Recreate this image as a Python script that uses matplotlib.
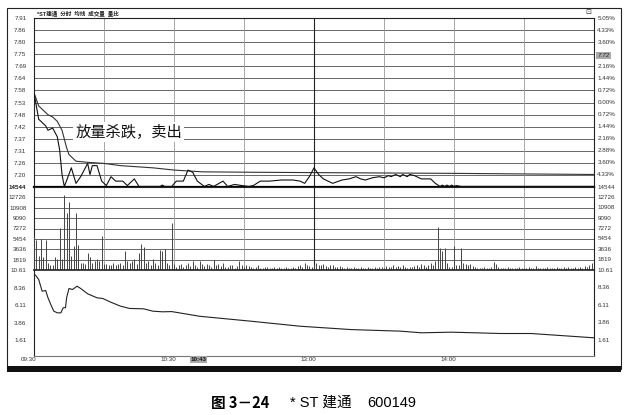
import matplotlib
matplotlib.use("Agg")
import matplotlib.pyplot as plt
from matplotlib.patches import Rectangle

plt.rcParams['font.family'] = ['Liberation Sans', 'Noto Sans CJK SC', 'DejaVu Sans']

W, H = 626, 415


def fx(px):
    return px / W


def fy(py):
    return 1 - py / H


# ---- data (minutes from 09:30, 0..240) ----
price_t = [0, 2, 5, 6, 8, 10, 11, 12, 13, 16, 18, 20, 23, 24, 25, 27, 29, 31, 33, 35,
           38, 40, 43, 45, 54, 55, 56, 59, 61, 64, 66, 68, 70, 73, 75, 77, 81, 83, 86, 89,
           92, 94, 97, 101, 106, 111, 114, 116, 118, 120, 122, 124, 126, 128, 132, 135, 138,
           140, 142, 145, 148, 150, 152, 153, 155, 157, 158, 160, 161, 163, 165, 166, 170,
           172, 174, 175, 176, 177, 178, 179, 180, 181, 183, 240]
price_v = [7.57, 7.45, 7.42, 7.40, 7.41, 7.37, 7.31, 7.20, 7.145, 7.23, 7.16, 7.19, 7.25,
           7.20, 7.24, 7.24, 7.17, 7.15, 7.19, 7.17, 7.17, 7.15, 7.18, 7.146, 7.146, 7.152,
           7.146, 7.146, 7.17, 7.17, 7.22, 7.21, 7.17, 7.146, 7.155, 7.146, 7.17, 7.146,
           7.155, 7.15, 7.146, 7.15, 7.17, 7.17, 7.175, 7.175, 7.17, 7.16, 7.19, 7.23, 7.20,
           7.18, 7.17, 7.16, 7.175, 7.18, 7.19, 7.18, 7.175, 7.185, 7.19, 7.185, 7.195,
           7.19, 7.20, 7.19, 7.20, 7.19, 7.20, 7.195, 7.185, 7.18, 7.18, 7.16, 7.146, 7.152,
           7.146, 7.152, 7.146, 7.152, 7.146, 7.15, 7.146, 7.146]

avg_t = [0, 2, 6, 8, 10, 12, 14, 15, 18, 23, 30, 37, 51, 60, 72, 94, 180, 240]
avg_v = [7.57, 7.51, 7.47, 7.46, 7.44, 7.40, 7.32, 7.29, 7.26, 7.255, 7.25, 7.24, 7.23,
         7.22, 7.212, 7.21, 7.205, 7.20]

volume = [6000, 5300, 2500, 5400, 2300, 5200, 1300, 900, 800, 2200,
          2000, 7300, 2000, 13200, 10000, 12000, 2500, 4200, 10000, 4300,
          1300, 1200, 1100, 3000, 2300, 1300, 1600, 2000, 1600, 5900,
          1100, 1000, 800, 900, 1200, 800, 1000, 1300, 900, 3400,
          1500, 1200, 1600, 2000, 1000, 3000, 4500, 4000, 1200, 1500,
          900, 1900, 1200, 800, 3500, 3400, 3600, 1200, 900, 8200,
          1100,
          600, 900, 1100, 500, 800, 1200, 700, 1500, 900, 600,
          1600, 1000, 700, 1100, 800, 500, 1750, 900, 1000, 700,
          1200, 600, 500, 800, 900, 400, 700, 1600, 800, 600,
          900, 700, 500, 400, 600, 800, 400, 300, 500, 600,
          400, 300, 500, 400, 600, 300, 400, 500, 300, 400,
          600, 400, 700, 800, 600, 1200, 900, 700, 500, 1100,
          1200, 800, 900, 1000, 700, 600, 800, 900, 500, 600,
          700, 500, 400, 600, 300, 400, 500, 300, 400, 500,
          300, 400, 600, 400, 300, 500, 400, 600, 500, 400,
          700, 500, 600, 800, 500, 700, 600, 900, 500, 400,
          600, 500, 700, 900, 600, 1000, 800, 600, 900, 1200,
          800, 1600, 7500, 3900, 3300, 3900, 1200, 600, 500, 4200,
          800, 900, 3900, 1200, 1000, 900, 1100, 700, 500, 400,
          300, 400, 500, 300, 400, 600, 1400, 1000, 500, 300,
          400, 300, 500, 400, 300, 400, 300, 500, 400, 300,
          400, 500, 300, 400, 700, 300, 400, 300, 400, 500,
          300, 400, 300, 500, 400, 300, 600, 400, 500, 300,
          400, 500, 300, 600, 400, 700, 500, 900, 1200, 2000]

ratio_t = [0, 1, 2, 3.5, 5, 6, 7.5, 8.5, 10, 11.5, 12.5, 13.5, 14, 15, 16.5, 18.5, 20, 23,
           27, 29.5, 32.5, 37, 41, 47, 51, 55, 59, 61, 65, 71, 93, 114, 136, 157, 166, 179,
           200, 213, 240]
ratio_v = [10.1, 9.82, 9.40, 7.90, 7.99, 7.06, 5.99, 5.35, 5.14, 5.14, 5.78, 5.8, 7.1, 8.25,
           8.12, 8.54, 8.25, 7.57, 7.06, 6.97, 6.55, 6.0, 5.7, 5.65, 5.35, 5.27, 5.3, 5.2,
           5.0, 4.7, 4.07, 3.43, 3.0, 2.8, 2.59, 2.67, 2.5, 2.5, 1.95]

price_labels = ["7.91", "7.86", "7.80", "7.75", "7.69", "7.64", "7.58", "7.53", "7.48",
                "7.42", "7.37", "7.31", "7.26", "7.20", "14544"]
pct_labels = ["5.05%", "4.33%", "3.60%", "", "2.16%", "1.44%", "0.72%", "0.00%", "0.72%",
              "1.44%", "2.16%", "2.88%", "3.60%", "4.33%", "14544"]
vol_ticks = [14544, 12726, 10908, 9090, 7272, 5454, 3636, 1819]
ratio_ticks = [10.61, 8.36, 6.11, 3.86, 1.61]
time_ticks = [0, 60, 120, 180]
time_labels = ["09:30", "10:30", "13:00", "14:00"]

prev_close = 7.58
step = prev_close * 0.0072
levels = [prev_close + step * k for k in range(6, -9, -1)]

# ---- figure ----
fig = plt.figure(figsize=(6.26, 4.15), dpi=100)
left, right = 34, 594
aw = fx(right) - fx(left)
ax1 = fig.add_axes([fx(left), fy(187), aw, fy(18) - fy(187)])
ax2 = fig.add_axes([fx(left), fy(270), aw, fy(187) - fy(270)], sharex=ax1)
ax3 = fig.add_axes([fx(left), fy(356), aw, fy(270) - fy(356)], sharex=ax1)

lab_kw = dict(fontsize=4.5, color='#333333')
grid_c = '#666666'

for ax in (ax1, ax2, ax3):
    ax.set_xlim(0, 240)
    for s in ax.spines.values():
        s.set_color('#222222')
        s.set_linewidth(0.8)
    ax.tick_params(axis='y', left=False, right=False, pad=2)
    ax.tick_params(axis='x', bottom=False, labelbottom=False)

# price panel
ax1.set_ylim(levels[-1], levels[0])
for lv in levels[1:-1]:
    ax1.axhline(lv, color=grid_c, lw=0.7, zorder=1)
ax1.set_yticks(levels)
ax1.set_yticklabels(price_labels, **lab_kw)
for lv, lab in zip(levels, pct_labels):
    if lab:
        ax1.text(1.006, lv, lab, transform=ax1.get_yaxis_transform(), ha='left', va='center', **lab_kw)
ax1.spines['bottom'].set_linewidth(1.6)
ax1.spines['bottom'].set_color('black')
ax1.plot(avg_t, avg_v, color='#333333', lw=0.8, zorder=3)
ax1.plot(price_t, price_v, color='#111111', lw=0.8, zorder=4)
ax1.text(40.5, 7.392, '放量杀跌，卖出', fontsize=11, color='#111111', ha='center', va='center',
         zorder=2, bbox=dict(fc='white', ec='none', pad=1.5))
ax1.text(1.006, levels[3] - 0.006, '7.72', transform=ax1.get_yaxis_transform(), ha='left',
         va='center', fontsize=4.5, color='#222222', style='italic',
         bbox=dict(fc='#aaaaaa', ec='none', pad=0.8))

# volume panel
ax2.set_ylim(0, 14544)
for v in vol_ticks[1:]:
    ax2.axhline(v, color=grid_c, lw=0.7, zorder=1)
ax2.set_yticks(vol_ticks)
ax2.set_yticklabels([str(v) for v in vol_ticks], **lab_kw)
for v in vol_ticks[1:]:
    ax2.text(1.006, v, str(v), transform=ax2.get_yaxis_transform(), ha='left', va='center', **lab_kw)
ax2.vlines(range(len(volume)), 0, volume, lw=0.7, color='#444444', zorder=3)

# vertical grid in price & volume panels
for ax in (ax1, ax2):
    for m in (30, 60, 90, 150, 180, 210):
        ax.axvline(m, color='#999999', lw=0.6, zorder=1)
    ax.axvline(120, color='#222222', lw=0.8, zorder=1)

# ratio panel
ax3.set_ylim(10.61 - 86 / 7.83, 10.61)
ax3.set_yticks(ratio_ticks)
ax3.set_yticklabels([f"{v:.2f}" for v in ratio_ticks], **lab_kw)
for v in ratio_ticks:
    ax3.text(1.006, v, f"{v:.2f}", transform=ax3.get_yaxis_transform(), ha='left', va='center', **lab_kw)
ax3.plot(ratio_t, ratio_v, color='#222222', lw=0.8)
ax3.spines['top'].set_linewidth(1.2)
ax3.spines['bottom'].set_color('#777777')
for m, lab in zip(time_ticks, time_labels):
    ax3.text(m - 2.4, -0.012, lab, transform=ax3.get_xaxis_transform(), ha='center', va='top',
             fontsize=4.5, color='#333333')
ax3.text(70.5, -0.012, '10:43', transform=ax3.get_xaxis_transform(), ha='center', va='top',
         fontsize=4.5, color='#111111', fontweight='bold',
         bbox=dict(fc='#aaaaaa', ec='none', pad=0.6))

# frame, header and caption
fig.patches.append(Rectangle((fx(7), fy(369)), fx(621) - fx(7), fy(8) - fy(369),
                             transform=fig.transFigure, fill=False, ec='#222222', lw=0.8))
fig.patches.append(Rectangle((fx(7), fy(372)), fx(621) - fx(7), fy(366) - fy(372),
                             transform=fig.transFigure, fc='#111111', ec='none'))
fig.text(fx(37), fy(13), '*ST建通  分时  均线  成交量  量比', fontsize=4, fontweight='bold',
         color='#222222', ha='left', va='center')
fig.text(fx(588), fy(12), '⊡', fontsize=5, color='#333333', ha='center', va='center',
         family='DejaVu Sans')

fig.text(fx(240), fy(403), '图 3－24', fontsize=10.5, fontweight='bold', ha='center', va='center',
         family=['Noto Sans CJK SC', 'DejaVu Sans'])
fig.text(fx(321), fy(403), '* ST 建通', fontsize=10.5, ha='center', va='center')
fig.text(fx(392), fy(403), '600149', fontsize=10.5, ha='center', va='center')

fig.savefig('out.png', dpi=100)
